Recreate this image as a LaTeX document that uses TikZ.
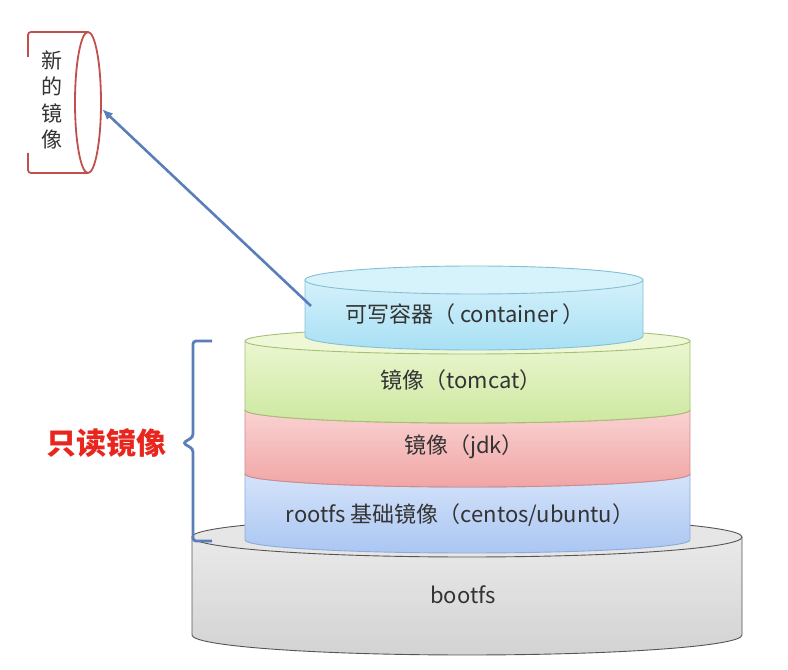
\documentclass[tikz,border=0pt]{standalone}
\usepackage{fontspec}
\setmainfont{Noto Sans CJK SC}
\usetikzlibrary{arrows.meta}
\definecolor{txt}{HTML}{333333}
\definecolor{arrowblue}{HTML}{5A7FB8}
\definecolor{labelred}{HTML}{E8261E}
\definecolor{cylred}{HTML}{C0504D}
\definecolor{cyanT}{HTML}{DDF4FC}\definecolor{cyanB}{HTML}{A8E0F4}\definecolor{cyanC}{HTML}{D6F2FB}\definecolor{cyanL}{HTML}{86BFD3}
\definecolor{grnT}{HTML}{F0F8D8}\definecolor{grnB}{HTML}{CDE8A0}\definecolor{grnC}{HTML}{EEF8D6}\definecolor{grnL}{HTML}{A6BF78}
\definecolor{redT}{HTML}{FBDADA}\definecolor{redB}{HTML}{F1A5A5}\definecolor{redC}{HTML}{F9D6D6}\definecolor{redL}{HTML}{D08A8A}
\definecolor{bluT}{HTML}{DCE8FB}\definecolor{bluB}{HTML}{AAC6F2}\definecolor{bluC}{HTML}{D8E6FA}\definecolor{bluL}{HTML}{8EAAD8}
\definecolor{gryT}{HTML}{EDEDED}\definecolor{gryB}{HTML}{D3D3D3}\definecolor{gryC}{HTML}{E6E6E6}\definecolor{gryL}{HTML}{555555}
\tikzset{
  lbl/.style={font=\fontsize{22}{24}\selectfont, text=txt, inner sep=0pt},
  edgeline/.style={line width=0.9pt},
  blueline/.style={arrowblue, line width=2.8pt},
}
% \mylayer{cx}{rx}{ry}{Ytop}{Ybot}{topcol}{botcol}{capcol}{linecol}
\newcommand{\mylayer}[9]{%
  \path[top color=#6, bottom color=#7]
    (#1-#2,#4) -- (#1-#2,#5)
    arc[start angle=180, end angle=360, x radius=#2, y radius=#3]
    -- (#1+#2,#4)
    arc[start angle=0, end angle=180, x radius=#2, y radius=#3] -- cycle;
  \draw[edgeline, draw=#9]
    (#1-#2,#4) -- (#1-#2,#5)
    arc[start angle=180, end angle=360, x radius=#2, y radius=#3]
    -- (#1+#2,#4);
  \draw[edgeline, draw=#9, fill=#8] (#1,#4) ellipse[x radius=#2, y radius=#3];
}
\begin{document}
\begin{tikzpicture}[x=1pt, y=1pt]
\useasboundingbox (0,0) rectangle (788,670);
\fill[white] (0,0) rectangle (788,670);

% bootfs
\mylayer{467}{275}{20}{133}{35}{gryT}{gryB}{gryC}{gryL}
% rootfs (blue)
\mylayer{467.5}{222.5}{13}{196}{130}{bluT}{bluB}{bluC}{bluL}
% jdk (red)
\mylayer{467.5}{222.5}{13}{260}{196}{redT}{redB}{redC}{redL}
% tomcat (green)
\mylayer{467.5}{222.5}{13}{329}{260}{grnT}{grnB}{grnC}{grnL}
% container (cyan)
\mylayer{474}{169}{14}{390}{334}{cyanT}{cyanB}{cyanC}{cyanL}

\node[lbl] (container) at (465,356) {可写容器（ container ）};
\node[lbl] (tomcat) at (461,290) {镜像（tomcat）};
\node[lbl] (jdk) at (464,223) {镜像（jdk）};
\node[lbl] (rootfs) at (460,155) {rootfs 基础镜像（centos/ubuntu）};
\node[lbl] (bootfs) at (463,75) {bootfs};

% brace
\draw[blueline, rounded corners=3pt]
  (212,329) -- (193,329) -- (193,233) -- (183,227) -- (193,221) -- (193,129) -- (212,129);
\node[inner sep=0pt, text=labelred, font=\fontsize{30}{32}\selectfont\bfseries] (ro) at (106,227) {只读镜像};

% new image cylinder
\fill[white] (28,638) rectangle (88,497);
\draw[cylred, line width=1.8pt, rounded corners=3pt]
  (28,613) -- (28,638) -- (88,638);
\draw[cylred, line width=1.8pt, rounded corners=3pt]
  (28,517) -- (28,497) -- (88,497);
\draw[cylred, line width=1.8pt] (88,567.5) ellipse[x radius=13, y radius=70.5];
\node[lbl, align=center, font=\fontsize{21}{26.5}\selectfont] (newimg) at (52,570) {新\\的\\镜\\像};

\coordinate (astart) at (311,364);
\coordinate (aend) at (102,561);
\draw[blueline, line width=2.6pt, -{Latex[length=11pt, width=9pt]}] (astart) -- (aend);
\end{tikzpicture}
\end{document}
